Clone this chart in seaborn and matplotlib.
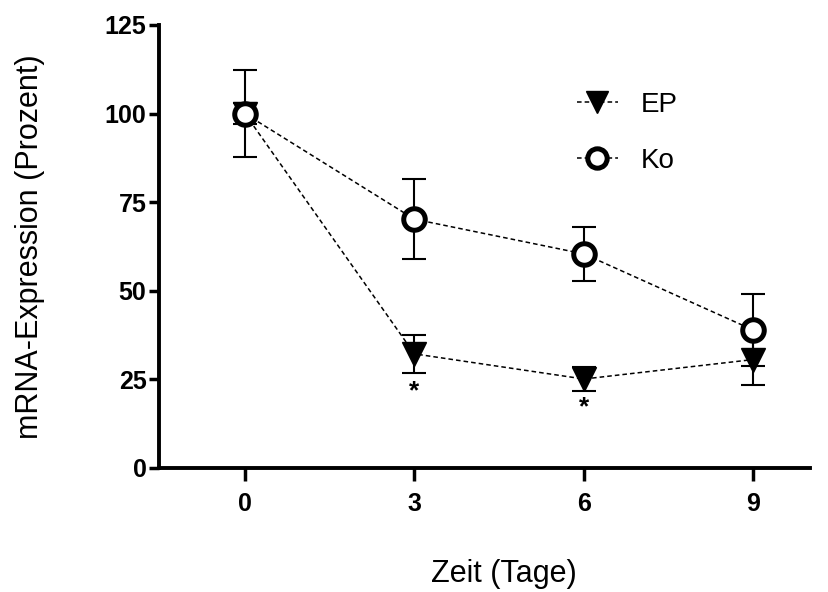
import matplotlib
matplotlib.use("Agg")
import matplotlib.pyplot as plt
import seaborn as sns
import pandas as pd
import numpy as np

days = [0, 3, 6, 9]
ep_mean = [100.0, 32.2, 25.1, 30.6]
ep_err = [3.0, 5.4, 3.3, 7.2]
ko_mean = [100.0, 70.2, 60.4, 38.9]
ko_err = [12.3, 11.3, 7.7, 10.2]
sig_days = [3, 6]
sig_y = [21.5, 17.0]
x_ticks = [0, 3, 6, 9]
y_ticks = [0, 25, 50, 75, 100, 125]

sns.set_theme(style="ticks")
plt.rcParams["font.family"] = ["Liberation Sans", "DejaVu Sans"]
plt.rcParams["text.color"] = "black"
plt.rcParams["axes.labelcolor"] = "black"

df = pd.DataFrame({
    "Zeit": days * 2,
    "Wert": ep_mean + ko_mean,
    "Gruppe": ["EP"] * 4 + ["Ko"] * 4,
})

fig = plt.figure(figsize=(8.29, 5.92), dpi=100)
ax = fig.add_axes([0.1918, 0.2095, 0.7852, 0.7483])

# error bars
ax.errorbar(days, ko_mean, yerr=ko_err, fmt="none", ecolor="black",
            elinewidth=1.5, capsize=8.5, capthick=1.5, zorder=2)
ax.errorbar(days, ep_mean, yerr=ep_err, fmt="none", ecolor="black",
            elinewidth=1.5, capsize=8.5, capthick=1.5, zorder=2)

sns.lineplot(data=df[df.Gruppe == "EP"], x="Zeit", y="Wert", ax=ax,
             color="black", linewidth=1.1, linestyle=(0, (3, 2)),
             marker="v", markersize=17, markerfacecolor="black",
             markeredgecolor="black", markeredgewidth=1, zorder=3,
             label="EP")
sns.lineplot(data=df[df.Gruppe == "Ko"], x="Zeit", y="Wert", ax=ax,
             color="black", linewidth=1.1, linestyle=(0, (3, 2)),
             marker="o", markersize=15.5, markerfacecolor="white",
             markeredgecolor="black", markeredgewidth=3.6, zorder=4,
             label="Ko")

for d, y in zip(sig_days, sig_y):
    ax.text(d, y, "*", ha="center", va="center", fontsize=19,
            fontweight="bold", color="black")

ax.set_xlim(-1.52, 10)
ax.set_ylim(0, 125)
ax.set_xticks(x_ticks)
ax.set_yticks(y_ticks)
ax.set_xticklabels([str(v) for v in x_ticks], fontsize=18, fontweight="bold")
ax.set_yticklabels([str(v) for v in y_ticks], fontsize=18, fontweight="bold")
ax.tick_params(axis="x", length=9, width=2.5, pad=8, colors="black")
ax.tick_params(axis="y", length=7, width=2.5, pad=2, colors="black")
for s in ["left", "bottom"]:
    ax.spines[s].set_linewidth(2.8)
    ax.spines[s].set_color("black")
sns.despine(ax=ax)

ax.set_xlabel("Zeit (Tage)", fontsize=22, color="black")
ax.set_ylabel("mRNA-Expression (Prozent)", fontsize=22, color="black")
ax.xaxis.set_label_coords(0.53, -0.205)
ax.yaxis.set_label_coords(-0.175, 0.5)

leg = ax.legend(loc="upper left", bbox_to_anchor=(0.603, 0.906), frameon=False,
                fontsize=20, handlelength=1.5, labelspacing=1.1,
                handletextpad=0.8, markerscale=0.9, labelcolor="black")

fig.savefig("out.png", dpi=100)
